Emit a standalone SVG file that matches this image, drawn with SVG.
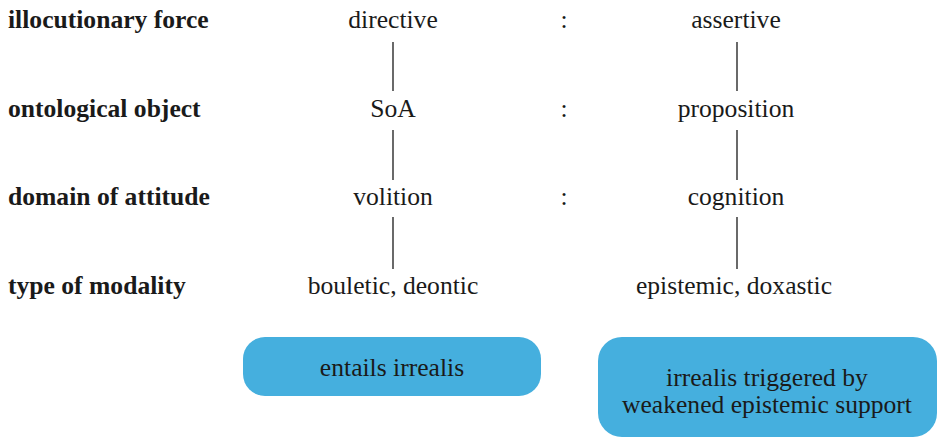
<svg xmlns="http://www.w3.org/2000/svg" width="939" height="438" viewBox="0 0 939 438">
<style>
svg text{font-family:'Liberation Serif',serif !important;font-size:25.6px;fill:#1a1a1a}
.lab{font-weight:bold}
.c{text-anchor:middle}
.con line{stroke:#1a1a1a;stroke-width:1.3}
.box{fill:#45afde}
</style>
<rect width="939" height="438" fill="#fff"/>
<g id="labels">
<text class="lab" x="8" y="28" font-family="Liberation Serif">illocutionary force</text>
<text class="lab" x="8" y="117" font-family="Liberation Serif">ontological object</text>
<text class="lab" x="8" y="205" font-family="Liberation Serif">domain of attitude</text>
<text class="lab" x="8" y="294" font-family="Liberation Serif">type of modality</text>
</g>
<g id="directive"><text class="c" x="393" y="28" font-family="Liberation Serif">directive</text></g>
<g id="assertive"><text class="c" x="736" y="28" font-family="Liberation Serif">assertive</text></g>
<g id="soa"><text class="c" x="393" y="117" font-family="Liberation Serif">SoA</text></g>
<g id="proposition"><text class="c" x="736" y="117" font-family="Liberation Serif">proposition</text></g>
<g id="volition"><text class="c" x="393" y="205" font-family="Liberation Serif">volition</text></g>
<g id="cognition"><text class="c" x="736" y="205" font-family="Liberation Serif">cognition</text></g>
<g id="bouletic"><text class="c" x="393" y="294" font-family="Liberation Serif">bouletic, deontic</text></g>
<g id="epistemic"><text class="c" x="734" y="294" font-family="Liberation Serif">epistemic, doxastic</text></g>
<g id="colons">
<text class="c" x="564" y="28" font-family="Liberation Serif">:</text>
<text class="c" x="564" y="117" font-family="Liberation Serif">:</text>
<text class="c" x="564" y="205" font-family="Liberation Serif">:</text>
</g>
<g id="connectors" class="con">
<line x1="393" y1="42" x2="393" y2="91"/>
<line x1="393" y1="130" x2="393" y2="180"/>
<line x1="393" y1="217" x2="393" y2="269"/>
<line x1="737" y1="42" x2="737" y2="91"/>
<line x1="737" y1="130" x2="737" y2="180"/>
<line x1="737" y1="217" x2="737" y2="269"/>
</g>
<g id="box-irrealis">
<rect class="box" x="243" y="337" width="298" height="59" rx="22"/>
<text class="c" x="392" y="376" font-family="Liberation Serif">entails irrealis</text>
</g>
<g id="box-weakened">
<rect class="box" x="598" y="337" width="339" height="100" rx="24"/>
<text class="c" x="767" y="386" font-family="Liberation Serif">irrealis triggered by</text>
<text class="c" x="767" y="413" font-family="Liberation Serif">weakened epistemic support</text>
</g>
</svg>
